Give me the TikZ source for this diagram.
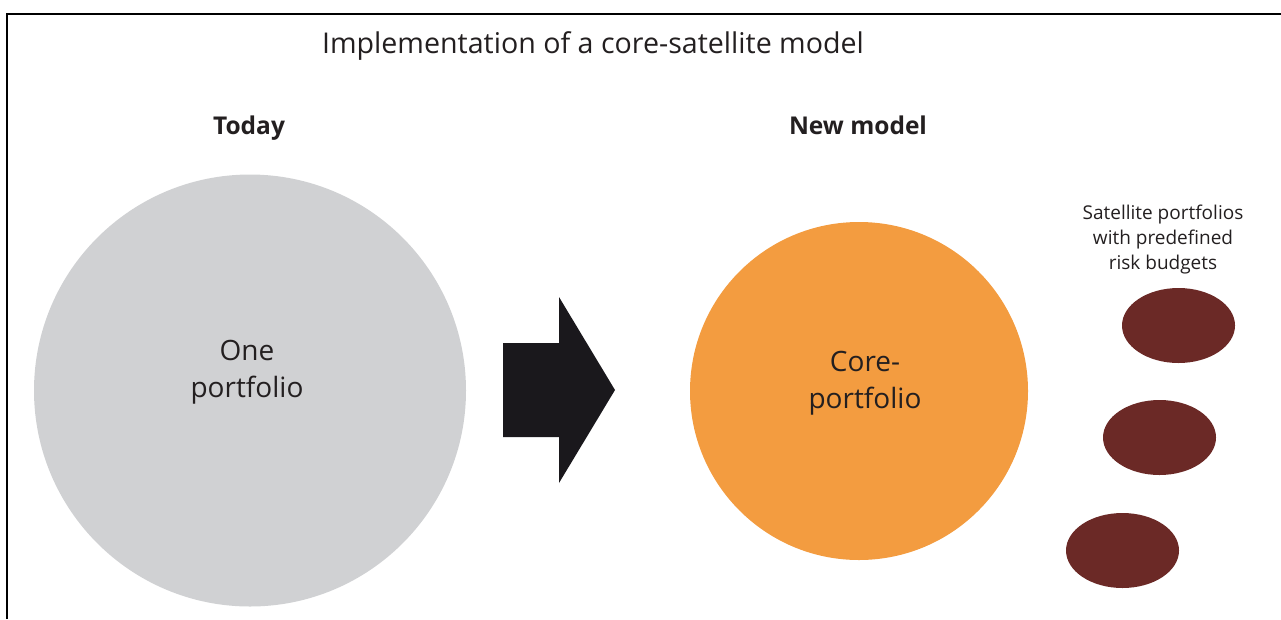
\documentclass[tikz,border=0pt]{standalone}
\usepackage{fontspec}
\setmainfont{Open Sans}
\usetikzlibrary{shapes.geometric}

\definecolor{greydisc}{HTML}{D0D1D3}
\definecolor{coreorange}{HTML}{F39C40}
\definecolor{satbrown}{HTML}{6B2926}
\definecolor{arrowblack}{HTML}{1A181C}
\definecolor{ink}{HTML}{231F20}

\tikzset{
  label text/.style={text=ink, inner sep=0pt, anchor=base, align=center},
  disc/.style={circle, inner sep=0pt, draw=none},
  satellite/.style={ellipse, fill=satbrown, draw=none, inner sep=0pt,
    minimum width=113pt, minimum height=75pt},
}

\begin{document}
\begin{tikzpicture}[x=1pt, y=-1pt]
\useasboundingbox (0,0) rectangle (1281,619);

% frame (open at right and bottom)
\draw[line width=2pt] (7,619) -- (7,14.3) -- (1281,14.3);

% title and column headings
\node[label text, font=\fontsize{28.6}{32}\selectfont] (title) at (593,53)
  {Implementation of a core-satellite model};
\node[label text, font=\fontsize{24.5}{28}\selectfont\bfseries] (today) at (249,134) {Today};
\node[label text, font=\fontsize{24.5}{28}\selectfont\bfseries] (newmodel) at (858,134) {New model};

% today: a single portfolio
\node[disc, fill=greydisc, minimum size=432pt] (one) at (250,390.5) {};
\node[label text, font=\fontsize{28}{37}\selectfont] (onetext) at (247,397)
  {One\\portfolio};

% transition arrow
\fill[arrowblack] (503,343) -- (559,343) -- (559,297) -- (615,390)
  -- (559,483) -- (559,437) -- (503,437) -- cycle;

% new model: core portfolio
\node[disc, fill=coreorange, minimum size=338pt] (core) at (859,391) {};
\node[label text, font=\fontsize{28}{37}\selectfont] (coretext) at (865,408)
  {Core-\\portfolio};

% satellite portfolios
\node[label text, font=\fontsize{19}{25}\selectfont] (sattext) at (1163,269)
  {Satellite portfolios\\with predefined\\risk budgets};
\node[satellite] (sat1) at (1178.5,325.5) {};
\node[satellite] (sat2) at (1159.5,437.5) {};
\node[satellite] (sat3) at (1122.5,550.5) {};
\end{tikzpicture}
\end{document}
